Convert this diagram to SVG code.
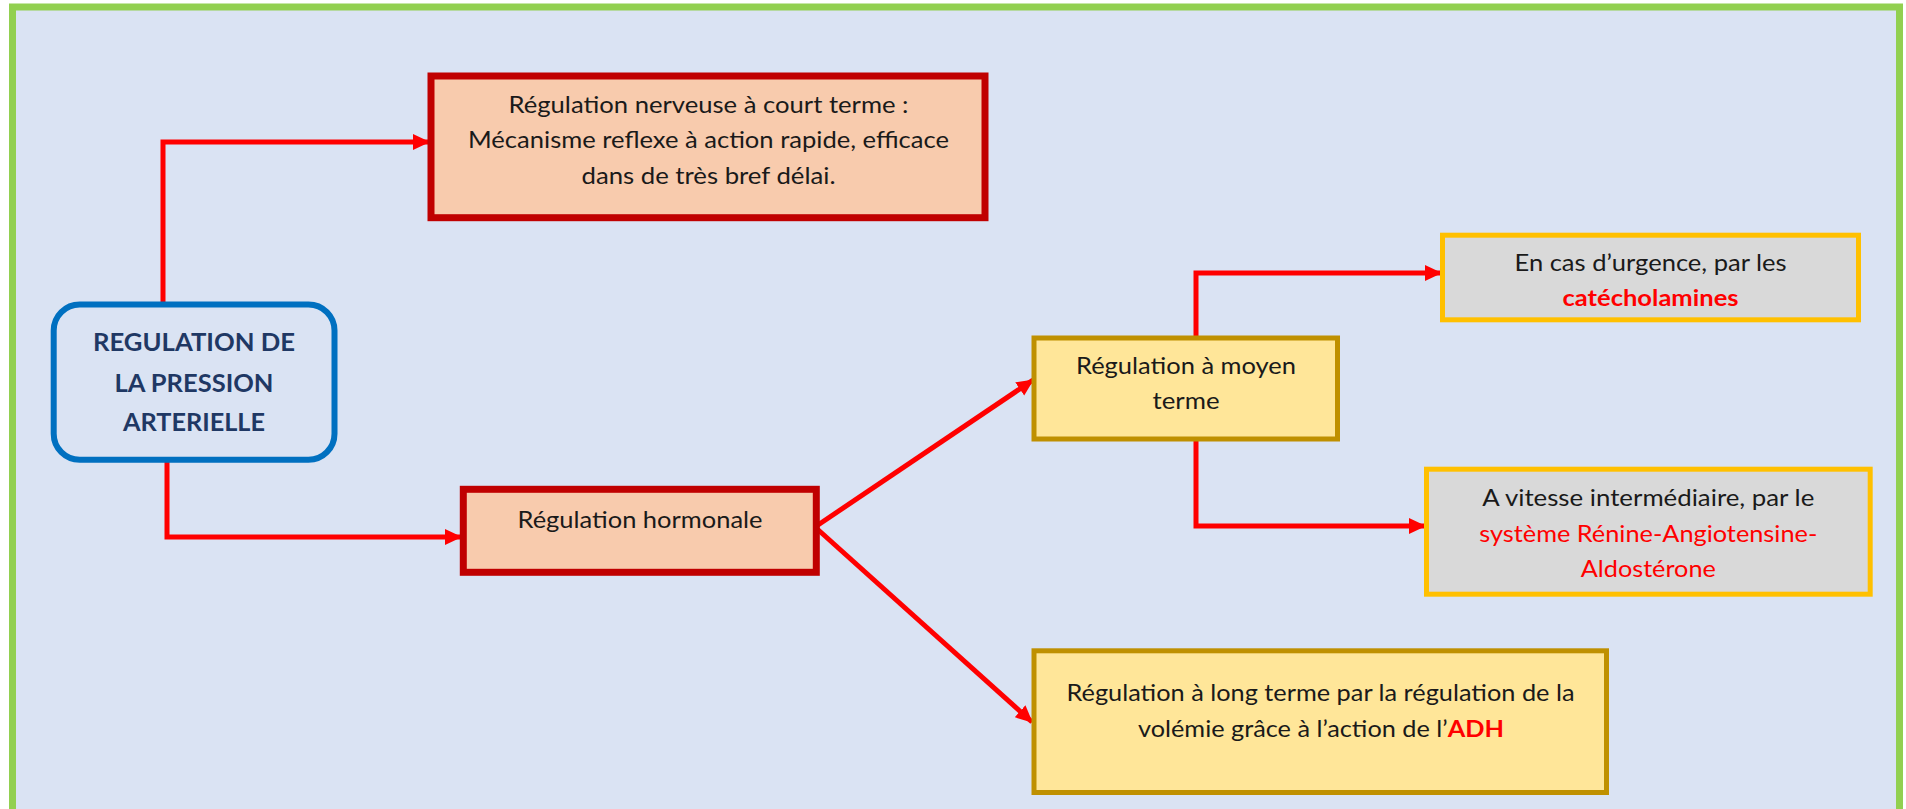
<svg xmlns="http://www.w3.org/2000/svg" width="1906" height="809" viewBox="0 0 1906 809">
<style>
.t{font-family:Lato,"Open Sans","Liberation Sans",sans-serif;font-size:23px;fill:#1a1a1a;text-anchor:middle}
.root{font-family:Lato,"Open Sans","Liberation Sans",sans-serif;font-size:24.5px;font-weight:bold;fill:#1f3864;text-anchor:middle}
.red{fill:#ff0000}
.b{font-weight:bold}
.dark{fill:#f8cbad;stroke:#c00000;stroke-width:7}
.gold{fill:#ffe699;stroke:#bf9000;stroke-width:5}
.grey{fill:#d9d9d9;stroke:#ffc000;stroke-width:5}
.c{fill:none;stroke:#ff0000;stroke-width:5;stroke-linejoin:miter}
</style>
<defs>
<marker id="ah" markerUnits="userSpaceOnUse" markerWidth="18" markerHeight="18" viewBox="0 0 18 18" refX="16" refY="9" orient="auto">
<path d="M0,1 L17,9 L0,17 Z" fill="#ff0000"/>
</marker>
</defs>
<rect x="0" y="0" width="1906" height="809" fill="#ffffff"/>
<rect x="12.5" y="7" width="1887" height="830" fill="#dae3f3" stroke="#92d050" stroke-width="7"/>

<g id="connectors">
<path class="c" d="M163,304 V142 H429" marker-end="url(#ah)"/>
<path class="c" d="M167,460 V537 H461" marker-end="url(#ah)"/>
<path class="c" d="M815,527 L1033,380" marker-end="url(#ah)"/>
<path class="c" d="M815,527 L1032,722" marker-end="url(#ah)"/>
<path class="c" d="M1196,338 V273 H1441" marker-end="url(#ah)"/>
<path class="c" d="M1196,439 V526 H1425" marker-end="url(#ah)"/>
</g>

<g id="root">
<rect x="53.7" y="304.5" width="280.8" height="155.2" rx="26" fill="#dae3f3" stroke="#0070c0" stroke-width="6"/>
<text class="root" x="194" y="351" textLength="202" lengthAdjust="spacingAndGlyphs">REGULATION DE</text>
<text class="root" x="194" y="391.5" textLength="159" lengthAdjust="spacingAndGlyphs">LA PRESSION</text>
<text class="root" x="194" y="430.5" textLength="142" lengthAdjust="spacingAndGlyphs">ARTERIELLE</text>
</g>

<g id="nerveuse">
<rect class="dark" x="431" y="76" width="554" height="141.7"/>
<text class="t" x="708.5" y="112.7" textLength="400" lengthAdjust="spacingAndGlyphs">Régulation nerveuse à court terme :</text>
<text class="t" x="708.5" y="148.3" textLength="481" lengthAdjust="spacingAndGlyphs">Mécanisme reflexe à action rapide, efficace</text>
<text class="t" x="708.5" y="184" textLength="254" lengthAdjust="spacingAndGlyphs">dans de très bref délai.</text>
</g>

<g id="hormonale">
<rect class="dark" x="463.3" y="489.3" width="353" height="83"/>
<text class="t" x="640" y="528.3" textLength="245" lengthAdjust="spacingAndGlyphs">Régulation hormonale</text>
</g>

<g id="moyen">
<rect class="gold" x="1034" y="338" width="303.5" height="101"/>
<text class="t" x="1186" y="374" textLength="220" lengthAdjust="spacingAndGlyphs">Régulation à moyen</text>
<text class="t" x="1186" y="409.3" textLength="67" lengthAdjust="spacingAndGlyphs">terme</text>
</g>

<g id="catecholamines">
<rect class="grey" x="1442.5" y="235.2" width="416" height="84.6"/>
<text class="t" x="1650.5" y="271" textLength="272" lengthAdjust="spacingAndGlyphs">En cas d’urgence, par les</text>
<text class="t red b" x="1650.5" y="306" textLength="176" lengthAdjust="spacingAndGlyphs">catécholamines</text>
</g>

<g id="sraa">
<rect class="grey" x="1426.5" y="469.2" width="443.7" height="125"/>
<text class="t" x="1648.3" y="506" textLength="332" lengthAdjust="spacingAndGlyphs">A vitesse intermédiaire, par le</text>
<text class="t red" x="1648.3" y="541.7" textLength="338" lengthAdjust="spacingAndGlyphs">système Rénine-Angiotensine-</text>
<text class="t red" x="1648.3" y="576.7" textLength="135" lengthAdjust="spacingAndGlyphs">Aldostérone</text>
</g>

<g id="long">
<rect class="gold" x="1034" y="650.8" width="572.5" height="141.7"/>
<text class="t" x="1320.5" y="701" textLength="508" lengthAdjust="spacingAndGlyphs">Régulation à long terme par la régulation de la</text>
<text class="t" x="1321" y="736.7" textLength="366" lengthAdjust="spacingAndGlyphs">volémie grâce à l’action de l’<tspan class="red b">ADH</tspan></text>
</g>
</svg>
